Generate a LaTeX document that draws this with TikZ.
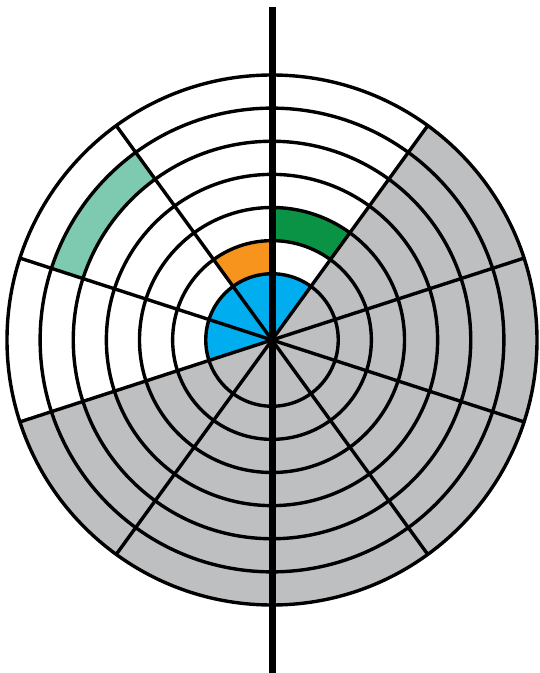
\documentclass[tikz,border=0pt]{standalone}
\definecolor{cblue}{HTML}{00AEEF}
\definecolor{corange}{HTML}{F7941E}
\definecolor{cgreen}{HTML}{0A9345}
\definecolor{cteal}{HTML}{7DCAB1}
\definecolor{cgray}{HTML}{BDBFC1}
\tikzset{
  ringline/.style={line width=3.4pt, black},
  spoke/.style={line width=3.4pt, black},
  axisline/.style={line width=7pt, black}
}
\begin{document}
\begin{tikzpicture}[x=1pt,y=1pt]
\useasboundingbox (0,0) rectangle (539,673);
\fill[white] (0,0) rectangle (539,673);
\def\u{33.125}
\begin{scope}[shift={(272,333)}]
\coordinate (O) at (0,0);
% fills
\fill[cgray] (O) -- (198:8*\u) arc[start angle=198,end angle=414,radius=8*\u] -- cycle;
\fill[cblue] (O) -- (54:2*\u) arc[start angle=54,end angle=198,radius=2*\u] -- cycle;
\fill[corange] (90:2*\u) -- (90:3*\u) arc[start angle=90,end angle=126,radius=3*\u] -- (126:2*\u) arc[start angle=126,end angle=90,radius=2*\u] -- cycle;
\fill[cgreen] (54:3*\u) -- (54:4*\u) arc[start angle=54,end angle=90,radius=4*\u] -- (90:3*\u) arc[start angle=90,end angle=54,radius=3*\u] -- cycle;
\fill[cteal] (126:6*\u) -- (126:7*\u) arc[start angle=126,end angle=162,radius=7*\u] -- (162:6*\u) arc[start angle=162,end angle=126,radius=6*\u] -- cycle;
% rings
\foreach \k in {2,...,8} {\draw[ringline] (O) circle[radius=\k*\u];}
% spokes
\foreach \a in {18,54,126,162,198,234,306,342} {\draw[spoke] (O) -- (\a:8*\u);}
\end{scope}
\coordinate (top) at (272,666);
\coordinate (bot) at (272,0);
\draw[axisline] (top) -- (bot);
\end{tikzpicture}
\end{document}
